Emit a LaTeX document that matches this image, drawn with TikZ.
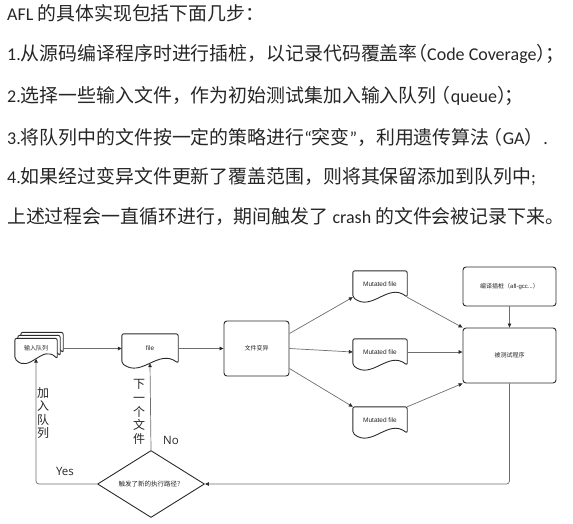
\documentclass[tikz,border=0pt]{standalone}
\usepackage{fontspec}
\setmainfont{Noto Sans CJK SC}
\newfontfamily\lat{Carlito}
\newfontfamily\lab{Liberation Sans}
\newfontfamily\yn{Open Sans}
\usetikzlibrary{arrows.meta,shapes.geometric,calc}

\definecolor{txt}{HTML}{262626}
\definecolor{shapec}{HTML}{2B2B2B}
\definecolor{linec}{HTML}{6E6E6E}

% Latin run inside the Chinese paragraphs
\newcommand\latt[1]{{\lat\fontsize{18}{20}\selectfont #1}}

% outline of a document shape (wavy bottom) around the node #1
\newcommand\docpath[1]{%
  (#1.south east)
  .. controls ($(#1.south east)!0.35!(#1.south west)+(0pt,15pt)$)
  and ($(#1.south east)!0.65!(#1.south west)+(0pt,-15pt)$) .. (#1.south west)
  -- (#1.north west) -- (#1.north east) -- cycle}

\tikzset{
  shp/.style={draw=shapec, line width=0.9pt, line join=round},
  docnode/.style={inner sep=0pt, text=txt},
  docline/.style={shp, rounded corners=2pt},
  box/.style={shp, rounded corners=3pt, inner sep=0pt, fill=white, text=txt},
  conn/.style={draw=linec, line width=0.7pt, rounded corners=3pt,
    -{Triangle[length=4pt,width=3.6pt,color=shapec]}},
  small/.style={font=\fontsize{6}{7}\selectfont},
  mutfont/.style={font=\lab\fontsize{6.5}{7.5}\selectfont},
  para/.style={anchor=west, inner sep=0pt, text=txt, font=\fontsize{18.9}{20}\selectfont},
  vlabel/.style={align=center, inner sep=0pt, text=txt},
  yesno/.style={inner sep=0pt, text=txt, font=\yn\fontsize{11.5}{13}\selectfont},
}

\begin{document}
\begin{tikzpicture}[x=1pt,y=-1pt]
\useasboundingbox (0,0) rectangle (573,523);

% ---- text ----
\node[para] (t1) at (7,13)  {\latt{AFL }的具体实现包括下面几步：};
\node[para] (t2) at (7,54)  {\latt{1.}从源码编译程序时进行插桩，以记录代码覆盖率\kern-0.5em（\latt{Code Coverage}）\kern-0.5em；};
\node[para] (t3) at (7,96)  {\latt{2.}选择一些输入文件，作为初始测试集加入输入队列\kern-0.25em（\latt{queue}）\kern-0.6em；};
\node[para] (t4) at (7,137) {\latt{3.}将队列中的文件按一定的策略进行\latt{“}突变\latt{”}，利用遗传算法\kern-0.3em（\latt{GA}）\latt{.}};
\node[para] (t5) at (7,177) {\latt{4.}如果经过变异文件更新了覆盖范围，则将其保留添加到队列中\latt{;}};
\node[para] (t6) at (7,217) {上述过程会一直循环进行，期间触发了\latt{\ crash }的文件会被记录下来。};

% ---- flow chart nodes ----
\node[docnode, minimum width=42pt, minimum height=20pt, small] (q) at (36,348.5) {};
\node[docnode, minimum width=56pt, minimum height=29pt, mutfont] (f) at (150,348.5) {file};
\node[box, minimum width=65pt, minimum height=55pt, small] (mut) at (256.5,348.5) {文件变异};
\node[docnode, minimum width=54pt, minimum height=26pt, mutfont] (m1) at (380,284) {Mutated file};
\node[docnode, minimum width=54pt, minimum height=26pt, mutfont] (m2) at (380,352) {Mutated file};
\node[docnode, minimum width=54pt, minimum height=26pt, mutfont] (m3) at (380,420) {Mutated file};
\node[box, minimum width=93pt, minimum height=39pt, small] (inst) at (509.5,286.5) {编译插桩（{\lab afl-gcc...}）};
\node[box, minimum width=93pt, minimum height=55pt, small] (tgt) at (509.5,355.5) {被测试程序};
\node[shp, diamond, aspect=1.6, minimum width=107pt, minimum height=67pt, inner sep=0pt,
      text=txt, font=\fontsize{6.5}{7.5}\selectfont] (dec) at (151,484) {触发了新的执行路径？};

% document outlines (input queue is a stack of three)
\draw[docline, fill=white, transform canvas={shift={(6pt,6pt)}}] \docpath{q};
\draw[docline, fill=white, transform canvas={shift={(3pt,3pt)}}] \docpath{q};
\draw[docline, fill=white] \docpath{q};
\node[docnode, small] (qlabel) at (q) {输入队列};
\draw[docline] \docpath{f};
\draw[docline] \docpath{m1};
\draw[docline] \docpath{m2};
\draw[docline] \docpath{m3};

% ---- connectors ----
\draw[conn] ([xshift=6pt]q.east) -- (f.west);
\draw[conn] (f.east) -- (mut.west);
\draw[conn] ([yshift=15pt]mut.east) -- (m1.south west);
\draw[conn] (mut.east) -- (m2.west);
\draw[conn] ([yshift=-20pt]mut.east) -- (m3.north west);
\draw[conn] (m1.south east) -- (tgt.north west);
\draw[conn] (m2.east) -- (m2.east -| tgt.west);
\draw[conn] (m3.north east) -- (tgt.south west);
\draw[conn] (inst.south) -- (tgt.north);
\draw[conn] (tgt.south) |- (dec.east);
\draw[conn] (dec.north) -- (f.south);
\draw[conn] (dec.west) -| (q.south);

% ---- branch labels ----
\node[vlabel, font=\fontsize{12}{13.4}\selectfont] (addq) at (43,413) {加\\入\\队\\列};
\node[vlabel, font=\fontsize{12}{13.8}\selectfont] (nextf) at (139,412) {下\\一\\个\\文\\件};
\node[yesno] (no) at (171,440) {No};
\node[yesno] (yes) at (65,471) {Yes};
\end{tikzpicture}
\end{document}
